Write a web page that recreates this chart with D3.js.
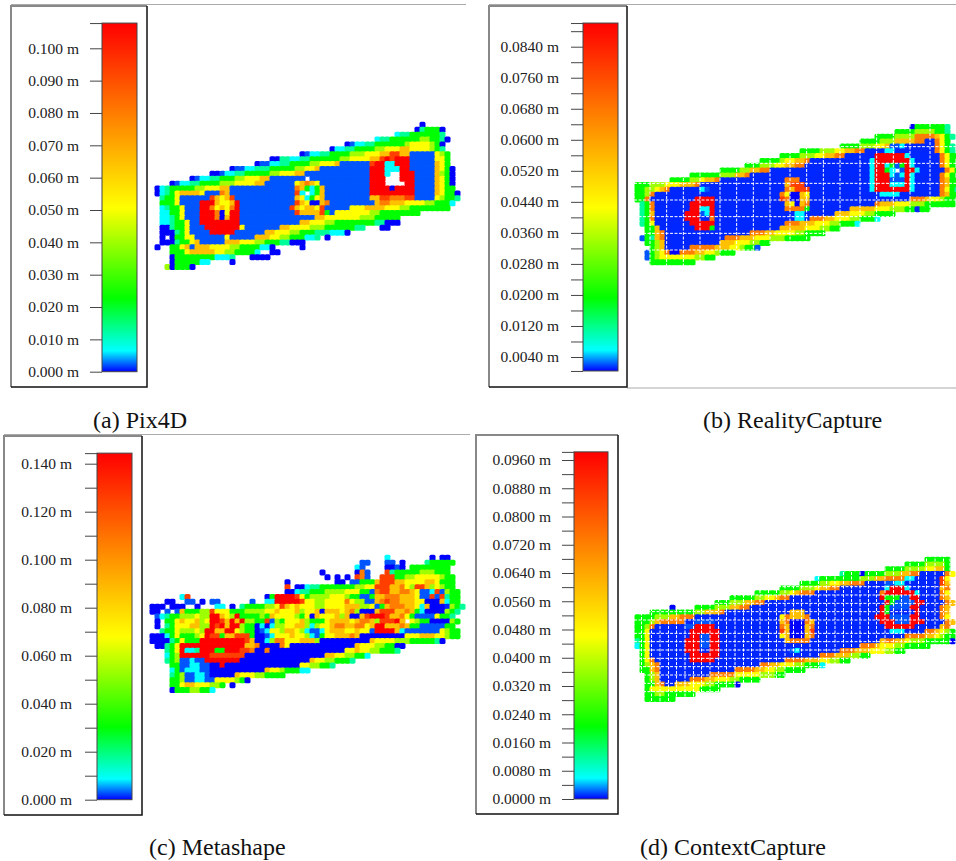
<!DOCTYPE html>
<html><head><meta charset="utf-8">
<script src="https://cdn.jsdelivr.net/npm/d3@7"></script>
<style>html,body{margin:0;background:#fff}svg{display:block}text{font-family:"Liberation Serif",serif}</style>
</head><body><svg id="c" width="956" height="861"></svg>
<script>
// Colour ramp of all four legends (fraction of the scale -> colour)
const rampStops = [0, .06, .21, .47, 1];
const rampColors = ["#0000ff", "#00ffff", "#00ff00", "#ffff00", "#ff0000"];
// Level letters used in the cell rows (fraction of each panel's scale)
const levelFractions = {B:0, m:.009, b:.02, c:.06, t:.12, g:.21, l:.37, y:.47, a:.6, o:.74, R:.87, r:1};

// Each row: first column, then runs of (level letter, cell count); _ = no point
const pix4dRows = ["",
"54 B1",
"53 B1t1g3B1",
"49 c1t2g6t1",
"45 c1t2g6l2g2t1B1",
"39 B1b1c2t2g6l1y4l1g1B1",
"36 B1c2t2g4l2y3a2y4l1g1t1",
"30 B1b1c2t2g4l3y3a1a1R2a1a1b5y1l1g1",
"24 B2t2c2t2g6l2y4a1a1R1r1R1r3b5y2g1",
"21 B1b2c2t2g4l2y3a1b6R1r2c2r3b5a1y1g1",
"16 B1b2c2t3g5l2y2a1b10r3c3r2b5a1y1g1B1",
"12 B2b1c2t2g5l2y3a2b13r3c1_2r3b4a1l1g1B1",
"8 B1b1c2t2g3l2y3a2b7_1b12r3_3r3b4a1y1g1B1",
"4 B1b1c2t2g4l3y4a2b6y1a1o1a1y1b10r3_4r2b4a1y1g1B1",
"1 B1c1t1g5l2y3a2b13o1a1g1c1g1a1b9r4B1r4b4a1y1g2",
"1 B1c1t1g1y1a4y1b3o1a1b13R1c1_1c1g1a1b9r9b4a1y1g2B1",
"2 t1g2y1b6R1a1y1a1R1b12a1y1c1g1y1a1b9a2R2o3R2b4y1l1g2t1",
"2 g3y1b4r3a1y2a1r1b11R1a1y1B2a1o1b9a1o2a3y2y2l2g3c1",
"2 c1t1g2y1b3r2o1y1a1y1o1r1b10R1a1y1a2y1R1b5y3a4y3l2g8",
"2 c2g2y1b3r3o1B1y1r2b11R1a4R1g1b1y7l2g8",
"2 c2t1g1y1b3r3o1B1a1r2b15a2y4y3l3g5",
"2 c2t1g2y1b2r8b12a2y3l2g8t2B3",
"2 B2t1g2y1b3r7y1b7a2y4l3g6t2_3B2",
"2 B3t1g1y1b4r5b6a2y3l2g3t3c3B1",
"2 B1_1B1g2y2b6y1b5a3y2l2g3c2t1_1B1",
"2 B3t1g2y1a1b5a3y3l2g3t2B3",
"1 B1_2g2y1a1b1a3y4l2g4c2B1_5B1",
"4 g3y1a5y2l2g4c1_2B2",
"4 B1g8c3t1_3B4",
"4 B1g5c2_4B1",
"3 l1B1g3B1"];

const realityRows = ["",
"",
"57 B1g6t1",
"54 g4l4g2t1",
"50 g4l4o4a1y1g1t1",
"47 g4l3a4o2m2o1y1g1",
"43 g4l3y2a1b2c1m6o1y1g1t1",
"35 g4l3y2a2o2m4c2m8o1y1g1t1",
"31 g4l3y2a2o2m6r6c1m6o1y1g2",
"27 g4l1y2a2o1m12c1r7c1m5o1y1g1",
"24 g3l3y2a2o2m13c1r2c1g1b1g1r1c1m5o1y1g1",
"19 g4l2a2o2m20c1r2g1c1_1b1r2c1m5o1y1g1",
"13 g6l3a2o1m24c1r3c1b1c1r1c1m5o1y1g1",
"9 g4l2y1a2o1m13o3m14c1r3b3r1c1m5o1a1g2",
"2 g3l3y3a3o1m17a1R3m13c1r3c3r1c1m5o1a1g2",
"2 g2l2y1a1o1m6c1b1m15o1a1R3m12c1r7c1m5o1y1g1t1",
"2 g2l1o1m25o1y1B2a1y1m14c4m8o1a1g2",
"2 g2o1m9r4m13R1o1B2a2m20o3a1y2l1g2",
"3 t1g1o1m7r5m14a1y1B1a1o1m13o1a3y3l3g6",
"3 t1g1o1m7r2c2r1m14o4g1m8a5y3l3g2m1g2",
"3 t1g1a1m6r3b1c1r1m16c2m6a3y3l2g4",
"3 t1g1o1m6r3m2o1m16c2m1o3a2y3l2g3c1",
"3 t1g1y1m7r5m14o3a3y3l2g3c1",
"4 g2a1m7r3g1m13a5y3l2g2",
"4 g2a1o1m17o3a2y4l2g4",
"3 b1g1t1a1o1m12o3a3y3l3g5",
"4 g2l1a1m11a3y3l2g2",
"5 g1l1a1m5o5a3y2l1g2b1",
"4 b1g1l1y1o1B2o3a2y2l1g3",
"4 b1g1l1y7l2g2",
"5 g9"];

const metashapeRows = ["", "",
"48 c1_8B1_1B2",
"43 b2_3b2_1B1_4t1g5",
"42 c1b1_4B2b1B1_1g8",
"35 B1_6B1o1b1_3R1t1g5l3g3",
"36 B1_1B1_1B1_1R1o1b1_2R3g2l2y5l1g2",
"28 B1_9B2_1b2g3a1R3a2y4a2y1g3",
"28 R1_1B2c1t2g7l2y2R3a2o1y1l1R2a1l1y1l1g2",
"28 B2c1t2g3l4y3g2b1o1R2a2o2a1y1b2c1R1b1l1g2",
"7 c1R1_15B1g1r4R1y1g1l4y3l1g2b1b1g1a2o3a3y1b2R1b1R1t1g2",
"4 B2_2b2_1B1_1b2_6b1_2c2r5R1y2l2y4o1y1l2b2a1o1R1o2a3y2B3a1c1g2",
"1 B3_1B3_2B1_3c2_1B1_1t1g4l2y1R1a1y1a1y3l2y4a3l2y1b1g1a1o3a2y1c1a1B3m1l1g1t1",
"1 B2_1b1_1b1a1g3l2R1y3g3l4y2a1y3a1l1y2a1B1a3y1a1o1l1B3a1R3a2o1a1g1c1B4l1g1t1",
"2 b1c1t1g2l3y1l2r2a1y1l1r1g4l1g1a1y2y2l1g1y1B1a1y3a1l1a1B2a1R1r2r1R1a2o1y1g1b4y1g2t1",
"2 B1_1g2y1a1y2a1l1y1r2R1a1r1a1r1l2g2R1b1l1g1y3a1l1g3y1a1a3y1a1o2a1l1R3r1a1_1y1l1g2B4l1g1",
"2 B1_1t1g1y1y2a2l2r1R1r1a1r2l1g2B1c1B1c1l2y1y1a2l1c1l1y2a1o2a2o2y1a1r2a3o1a1g2b5g2",
"3 t1g2y1l3y1l1r2a2r2y1l1g2B1b1c1y2l1a2y1l1c1b2c1y1a3y2a1y2b1r4a1c1b7y1l1g2",
"1 B3c1g1y1g3l1y1r1R2g1a2R3g1B2b1c1y3a1y2l1c1b1g1y2a3o1a1B9y3a3y2l1g2",
"1 B4t1g1y1g3r9R1a1B2c1l1o2y3a3l1B10a1y4l3g5t1B1",
"2 B2t1g1y1r4r9a2o1B4o1y1B13a1y3l2g2B2",
"4 t1g1y1r1c2t1r3g2r3R2o1B2o1B15y2a1y2l2g3t1",
"4 c1g1l1r6R7B16a2y2l2g2c1",
"4 t1g1l1b2c1b2r7B14a1y2l2g3t1",
"5 g2b2c2b2B2r1B15y2l2g2t1",
"5 c1g1b1c3b2B11a1y2l1g3c2",
"5 t1g1l1b2c2b1B5a1y3l2g4",
"5 g2l1b2c2b2y4l1g1B1",
"5 g2y1a2y3l2g1_1B1",
"5 B1g3l2g2c1"];

const contextRows = ["", "",
"60 g5",
"56 g4l4g1",
"52 g4l4y2a2g1",
"43 t1g3B1g4l3a2o2m5o1y1",
"38 c1g8l3a2o4c2m5R1y1",
"35 g4l2y2a2o3m4b2c2m7R1a1",
"31 g4l3y1a2o2m9c1r3c1m6a1o1",
"26 g5l2y1a1o3m13o1r6c1m4o1y1",
"21 g5l2y2a1o2m18r1g3b2r2m4o1a1",
"18 g3l3a2o2m24r1g1b4r2m4o1a1",
"9 B1_4g4l3a2o2m26r1g1b4r2m4o1a1",
"5 g9l2a3o1m13a3m15r1g1m5r1m4o1a1",
"2 g4l3a2o3m17y1o1a3o1m13r3b4r2m4o1y1",
"2 g3l1a1o5m2b4m13a1o1B3o1a1m13r3b3r3m4o1a1",
"2 g2l1o1m6b2r4m13o1a1B3a1o1m14r6m5a1o1",
"2 g2y1m8r6m12R1a1B3a1R1m15c3m4o2a1y1l1g1",
"2 g2y1m8r2b2r2m12y1a1B3a1o1m18o4a2y1l1g2",
"2 t1g1y1m7r3b2r2m13a1o4m14a1o2a2y1l3g5B1",
"2 c1g1y1m7r3b2r2m16m12o3a1y3l2g5",
"3 g1y1m7r3m2r2m14b1c1m8o3a3y3l2g2",
"3 g1y1m8r6m20o3a3l2g2",
"3 g1y1o1m7r5m14o4a3y2l2g2",
"3 g1l1a1o1m20o2a2y3l2g3c1",
"3 g2a1o1m15o4a2y2l2g4",
"4 g1l1a1m10o5y5l3g2",
"4 g1l1a1m6o3a2y3l2g4",
"4 g2a1o1m2a3y3l2g4B1",
"4 g1y10g4",
"4 g2l2g6",
"4 g6"];

// Legend ticks (metres), which of them carry a label
const pix4dTicks = [0,.01,.02,.03,.04,.05,.06,.07,.08,.09,.1,.1078];
const pix4dLabels = [0,.01,.02,.03,.04,.05,.06,.07,.08,.09,.1];
const realityTicks = [.0004,.004,.008,.012,.016,.02,.024,.028,.032,.036,.04,.044,.048,.052,.056,.06,.064,.068,.072,.076,.08,.084,.088,.0901];
const realityLabels = [.004,.012,.02,.028,.036,.044,.052,.06,.068,.076,.084];
const metashapeTicks = [0,.01,.02,.03,.04,.05,.06,.07,.08,.09,.1,.11,.12,.13,.14,.1444];
const metashapeLabels = [0,.02,.04,.06,.08,.1,.12,.14];
const contextTicks = [0,.004,.008,.012,.016,.02,.024,.028,.032,.036,.04,.044,.048,.052,.056,.06,.064,.068,.072,.076,.08,.084,.088,.092,.096,.0983];
const contextLabels = [0,.008,.016,.024,.032,.04,.048,.056,.064,.072,.08,.088,.096];

// Dashed white seams of the rasters, in cell units
const realitySeamsX = [5,8.33,11.67,15,19,22.33,25.67,29,33,36.33,39.67,43,47,50.33,53.67,57,61];
const realitySeamsY = [6.33,9.67,13.67,17,20.33,23.67,27];
const contextSeamsX = [3.3,5.3,7,8.7,10.3,12,13.7,15.3,17,18.7,20.3,22,23.7,25.3,27,28.7,30.3,32,33.7,35.3,37,38.7,40.3,42,43.7,45.3,47,48.7,50.3,52,53.7,55.3,57,58.7,60.3,62,63.7,65];
const contextSeamsY = [8.33,10,11.67,13.33,15,17.67,19.33,21,22.67,24.33,26,27.67,29.33];

const captions = ["(a) Pix4D","(b) RealityCapture","(c) Metashape","(d) ContextCapture"];

const panels = [
 {rows:pix4dRows, ticks:pix4dTicks, labels:pix4dLabels, digits:3, vmax:.1078, ox:150, oy:117.5, dy:4.9, sy0:115,
  vy:[0,.1], py:[371.7,48.3], box:[11,6,147,387], bar:[102,137], pad:11, cap:[93,428],
  rule:[[11,4.5,466,4.5]]},
 {rows:realityRows, ticks:realityTicks, labels:realityLabels, digits:4, vmax:.0901, ox:625, oy:115, dy:4.83, sy0:115,
  vy:[.004,.084], py:[357,46.7], box:[489,6,627,387], bar:[583,618], pad:12, cap:[703,428],
  rule:[[489,4.5,956,4.5],[627,388,956,388]], sx:realitySeamsX, sy:realitySeamsY},
 {rows:metashapeRows, ticks:metashapeTicks, labels:metashapeLabels, digits:3, vmax:.1444, ox:145, oy:545.5, dy:4.9, sy0:545,
  vy:[0,.14], py:[799.7,463.7], box:[4,436,142,815], bar:[97,132], pad:13, cap:[149,855],
  rule:[[4,434.5,470,434.5]]},
 {rows:contextRows, ticks:contextTicks, labels:contextLabels, digits:4, vmax:.0983, ox:625, oy:547.7, dy:4.8, sy0:545,
  vy:[0,.096], py:[799,460], box:[476,435,618,814], bar:[574,608], pad:11, cap:[640,855],
  rule:[], sx:contextSeamsX, sy:contextSeamsY}
];

const svg = d3.select("#c");
const ramp = d3.scaleLinear().domain(rampStops).range(rampColors).interpolate(d3.interpolateRgb);
const defs = svg.append("defs");
const grad = defs.append("linearGradient").attr("id","ramp").attr("x1",0).attr("x2",0).attr("y1",1).attr("y2",0);
grad.selectAll("stop").data(rampStops).join("stop").attr("offset",d=>d).attr("stop-color",d=>ramp(d));

function parse(rows, vmax){
  const pts=[];
  rows.forEach((s,r)=>{
    if(!s) return;
    const sp=s.indexOf(" ");
    let c=+s.slice(0,sp);
    for(const m of s.slice(sp+1).matchAll(/([A-Za-z_])(\d+)/g)){
      const n=+m[2];
      for(let i=0;i<n;i++,c++) if(m[1]!=="_") pts.push({col:c,row:r,value:levelFractions[m[1]]*vmax});
    }
  });
  return pts;
}

panels.forEach((p,i)=>{
  const g=svg.append("g");
  g.selectAll("line.rule").data(p.rule).join("line").attr("class","rule")
    .attr("x1",d=>d[0]).attr("y1",d=>d[1]).attr("x2",d=>d[2]).attr("y2",d=>d[3])
    .attr("stroke","#aaa").attr("stroke-width",1);

  // point cloud: each cell a small rounded dot
  const x=d3.scaleLinear().domain([0,1]).range([p.ox+2.5,p.ox+7.5]);
  const y=d3.scaleLinear().domain([0,1]).range([p.oy+p.dy/2,p.oy+p.dy*1.5]);
  const col=d3.scaleLinear().domain([0,p.vmax]).range([0,1]);
  g.append("g").selectAll("rect").data(parse(p.rows,p.vmax)).join("rect")
    .attr("x",d=>x(d.col)-3).attr("y",d=>y(d.row)-3).attr("width",6).attr("height",6).attr("rx",1.6)
    .attr("fill",d=>ramp(col(d.value)));

  // dashed seams
  if(p.sx){
    const xs=d3.scaleLinear().domain([0,1]).range([p.ox,p.ox+5]);
    const ys=d3.scaleLinear().domain([0,1]).range([p.sy0,p.sy0+5]);
    const seams=g.append("g").attr("stroke","#fff").attr("stroke-width",1).attr("stroke-dasharray","3 1.5");
    seams.selectAll("line.v").data(p.sx).join("line").attr("class","v")
      .attr("x1",d=>xs(d)).attr("x2",d=>xs(d)).attr("y1",p.sy0).attr("y2",p.sy0+170);
    seams.selectAll("line.h").data(p.sy).join("line").attr("class","h")
      .attr("y1",d=>ys(d)).attr("y2",d=>ys(d)).attr("x1",p.ox).attr("x2",956);
  }

  // legend frame
  const [bx0,by0,bx1,by1]=p.box;
  g.append("rect").attr("x",bx0).attr("y",by0).attr("width",bx1-bx0).attr("height",by1-by0)
    .attr("fill","#fff").attr("stroke","none");
  g.append("path").attr("d",`M${bx0},${by1}V${by0}H${bx1}`).attr("fill","none").attr("stroke","#888").attr("stroke-width",2);
  g.append("path").attr("d",`M${bx0},${by1}H${bx1}V${by0}`).attr("fill","none").attr("stroke","#111").attr("stroke-width",1.5);

  // colour bar and axis
  const yv=d3.scaleLinear().domain(p.vy).range(p.py);
  const tMin=d3.min(p.ticks), tMax=d3.max(p.ticks);
  g.append("rect").attr("x",p.bar[0]).attr("y",yv(tMax)).attr("width",p.bar[1]-p.bar[0]).attr("height",yv(tMin)-yv(tMax))
    .attr("fill","url(#ramp)").attr("stroke","#444").attr("stroke-width",1);
  const axis=d3.axisLeft(yv).tickValues(p.ticks).tickSize(12).tickPadding(p.pad)
    .tickFormat(d=>p.labels.includes(d)?d.toFixed(p.digits)+" m":"");
  const ag=g.append("g").attr("transform",`translate(${p.bar[0]},0)`).call(axis);
  ag.select(".domain").remove();
  ag.selectAll("line").attr("stroke","#444");
  ag.selectAll("text").attr("font-size",15.5).attr("fill","#222").style("font-family",'"Liberation Serif",serif');

  g.append("text").attr("x",p.cap[0]).attr("y",p.cap[1]).attr("font-size",24).attr("fill","#111").text(captions[i]);
});
</script></body></html>
